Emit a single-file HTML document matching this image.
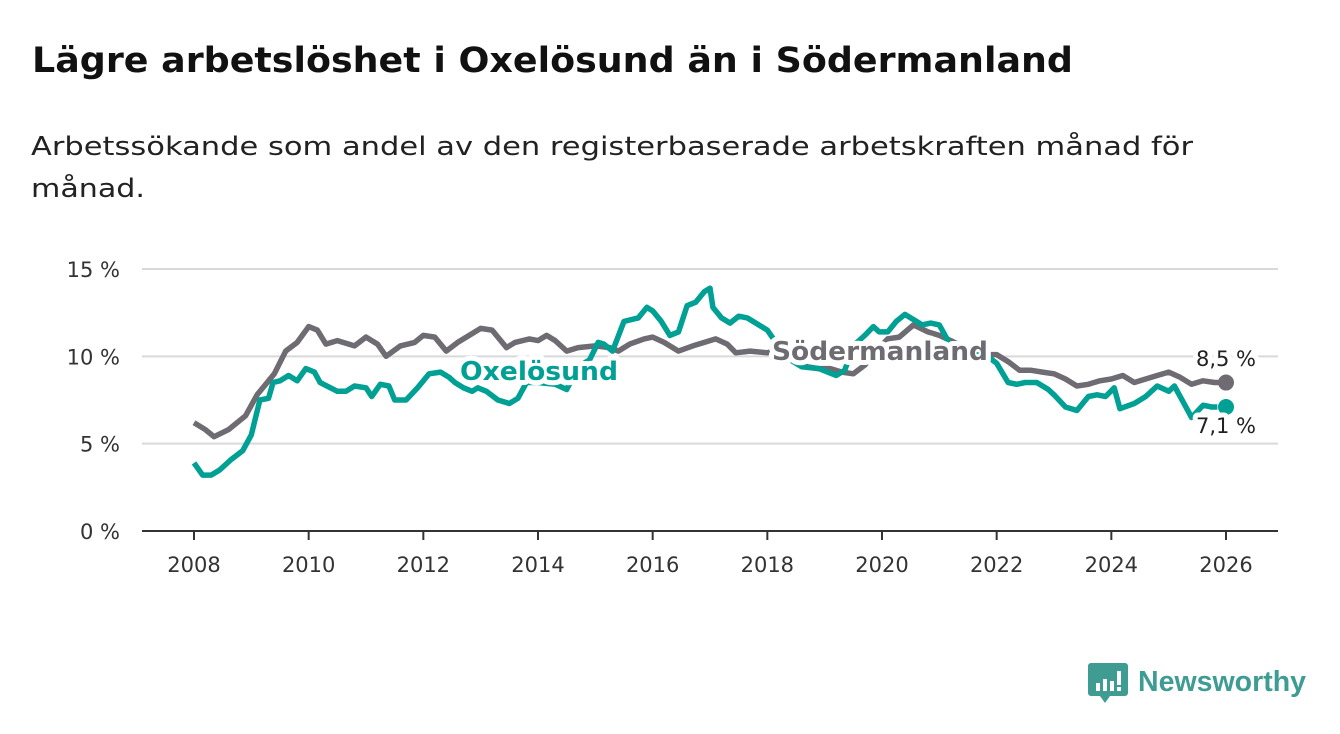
<!DOCTYPE html>
<html><head><meta charset="utf-8">
<style>
html,body{margin:0;padding:0;background:#fff;}
svg{display:block;font-family:"DejaVu Sans","Liberation Sans",sans-serif;}
</style></head>
<body>
<svg id="chart" width="1340" height="734" viewBox="0 0 1340 734">
<text x="32" y="72" font-size="35" font-weight="bold" fill="#111" textLength="1041" lengthAdjust="spacingAndGlyphs">Lägre arbetslöshet i Oxelösund än i Södermanland</text>
<text x="31" y="155" font-size="26" fill="#222" textLength="1162" lengthAdjust="spacingAndGlyphs">Arbetssökande som andel av den registerbaserade arbetskraften månad för</text>
<text x="31" y="197" font-size="26" fill="#222" textLength="114" lengthAdjust="spacingAndGlyphs">månad.</text>
<g id="grid"></g>
<g id="xaxis"></g>
<g id="lines"></g>
<g id="labels"></g>
<g>
<path d="M1091 663 h34 a3 3 0 0 1 3 3 v27 a3 3 0 0 1 -3 3 h-15 l-5 7 l-5 -7 h-9 a3 3 0 0 1 -3 -3 v-27 a3 3 0 0 1 3 -3z" fill="#3f9c92"/>
<rect x="1096" y="683" width="4" height="8" fill="#fff"/><rect x="1103" y="679" width="4" height="12" fill="#fff"/><rect x="1110" y="681" width="4" height="10" fill="#fff"/><rect x="1117" y="671" width="4" height="14" fill="#fff"/><rect x="1117" y="687" width="4" height="4" fill="#fff"/>
<text x="1138" y="691" font-size="29" font-weight="bold" fill="#3f9c92" font-family="Liberation Sans, sans-serif" textLength="168" lengthAdjust="spacingAndGlyphs">Newsworthy</text>
</g>
</svg>
<script>
const yTicks=[0,5,10,15];
const yTickLabels=["0 %","5 %","10 %","15 %"];
const xTicks=[2008,2010,2012,2014,2016,2018,2020,2022,2024,2026];
const sodDates=[2008.0,2008.2,2008.35,2008.6,2008.9,2009.1,2009.4,2009.6,2009.8,2010.0,2010.15,2010.3,2010.5,2010.8,2011.0,2011.2,2011.35,2011.6,2011.85,2012.0,2012.2,2012.4,2012.6,2012.8,2013.0,2013.2,2013.45,2013.6,2013.85,2014.0,2014.15,2014.3,2014.5,2014.7,2015.0,2015.25,2015.4,2015.6,2015.85,2016.0,2016.2,2016.45,2016.7,2016.9,2017.1,2017.3,2017.45,2017.7,2018.0,2018.2,2018.5,2018.7,2018.9,2019.1,2019.3,2019.5,2019.7,2019.9,2020.1,2020.3,2020.55,2020.8,2021.0,2021.2,2021.5,2021.8,2022.0,2022.2,2022.4,2022.6,2022.8,2023.0,2023.2,2023.4,2023.6,2023.8,2024.0,2024.2,2024.4,2024.6,2024.8,2025.0,2025.2,2025.4,2025.6,2025.8,2026.0];
const sodValues=[6.2,5.8,5.4,5.8,6.6,7.8,9.0,10.3,10.8,11.7,11.5,10.7,10.9,10.6,11.1,10.7,10.0,10.6,10.8,11.2,11.1,10.3,10.8,11.2,11.6,11.5,10.5,10.8,11.0,10.9,11.2,10.9,10.3,10.5,10.6,10.5,10.3,10.7,11.0,11.1,10.8,10.3,10.6,10.8,11.0,10.7,10.2,10.3,10.2,10.4,9.6,9.4,9.3,9.3,9.1,9.0,9.5,10.3,11.0,11.1,11.8,11.4,11.2,10.9,10.4,10.1,10.1,9.7,9.2,9.2,9.1,9.0,8.7,8.3,8.4,8.6,8.7,8.9,8.5,8.7,8.9,9.1,8.8,8.4,8.6,8.5,8.5];
const oxDates=[2008.0,2008.15,2008.3,2008.45,2008.65,2008.85,2009.0,2009.15,2009.3,2009.38,2009.5,2009.65,2009.8,2009.95,2010.1,2010.2,2010.5,2010.65,2010.8,2011.0,2011.1,2011.25,2011.4,2011.5,2011.7,2011.9,2012.1,2012.3,2012.45,2012.55,2012.7,2012.85,2012.95,2013.1,2013.3,2013.5,2013.65,2013.8,2014.0,2014.3,2014.5,2014.7,2014.9,2015.05,2015.15,2015.3,2015.5,2015.75,2015.9,2016.0,2016.15,2016.3,2016.45,2016.6,2016.75,2016.9,2017.0,2017.05,2017.2,2017.35,2017.5,2017.65,2017.85,2018.0,2018.15,2018.3,2018.6,2018.9,2019.2,2019.35,2019.5,2019.7,2019.85,2019.95,2020.1,2020.25,2020.4,2020.5,2020.7,2020.85,2021.0,2021.1,2021.2,2021.5,2021.8,2022.0,2022.2,2022.35,2022.5,2022.7,2022.9,2023.0,2023.2,2023.4,2023.6,2023.75,2023.9,2024.05,2024.15,2024.4,2024.6,2024.8,2025.0,2025.1,2025.25,2025.4,2025.6,2025.75,2025.85,2026.0];
const oxValues=[3.9,3.2,3.2,3.5,4.1,4.6,5.5,7.5,7.6,8.5,8.6,8.9,8.6,9.3,9.1,8.5,8.0,8.0,8.3,8.2,7.7,8.4,8.3,7.5,7.5,8.2,9.0,9.1,8.8,8.5,8.2,8.0,8.2,8.0,7.5,7.3,7.6,8.5,8.5,8.4,8.1,9.4,9.8,10.8,10.7,10.3,12.0,12.2,12.8,12.6,12.0,11.2,11.4,12.9,13.1,13.7,13.9,12.8,12.2,11.9,12.3,12.2,11.8,11.5,10.8,10.0,9.4,9.3,8.9,9.2,10.6,11.2,11.7,11.4,11.4,12.0,12.4,12.2,11.8,11.9,11.8,11.2,10.6,10.2,10.1,9.6,8.5,8.4,8.5,8.5,8.1,7.8,7.1,6.9,7.7,7.8,7.7,8.2,7.0,7.3,7.7,8.3,8.0,8.3,7.4,6.5,7.2,7.1,7.1];
const sodEndLabel="8,5 %", oxEndLabel="7,1 %";

const NS="http://www.w3.org/2000/svg";
const X0=194,X1=1226,Y0=531,Y15=269;
const xs=d=>X0+(d-2008)*(X1-X0)/18;
const ys=v=>Y0-v*(Y0-Y15)/15;
function mk(tag,attrs,parent,text){const e=document.createElementNS(NS,tag);for(const k in attrs)e.setAttribute(k,attrs[k]);if(text!==undefined)e.textContent=text;parent.appendChild(e);return e;}
const grid=document.getElementById('grid'),xa=document.getElementById('xaxis'),lines=document.getElementById('lines'),lab=document.getElementById('labels');
yTicks.forEach((t,i)=>{
 const l=mk('line',{x1:142,x2:1278,y1:ys(t),y2:ys(t),stroke:t===0?'#333':'#d9d9d9','stroke-width':2},grid);
 
 
 const tx=mk('text',{x:120,y:ys(t)+8,'font-size':21,fill:'#333','text-anchor':'end'},grid,yTickLabels[i]);
 
 
});
xTicks.forEach(t=>{
 const l=mk('line',{x1:xs(t),x2:xs(t),y1:Y0,y2:Y0+9,stroke:'#333','stroke-width':2},xa);
 
 
 const tx=mk('text',{x:xs(t),y:572,'font-size':21,fill:'#333','text-anchor':'middle'},xa,String(t));
 
 
});
function path(ds,vs){return ds.map((d,i)=>(i?'L':'M')+xs(d).toFixed(1)+' '+ys(vs[i]).toFixed(1)).join(' ');}
const sp=mk('path',{d:path(sodDates,sodValues),fill:'none',stroke:'#6e6c72','stroke-width':5.5,'stroke-linejoin':'round'},lines);


const op=mk('path',{d:path(oxDates,oxValues),fill:'none',stroke:'#00a095','stroke-width':5.5,'stroke-linejoin':'round'},lines);


const sd=mk('circle',{cx:xs(sodDates[sodDates.length-1]),cy:ys(sodValues[sodValues.length-1]),r:8,fill:'#6e6c72'},lines);


const od=mk('circle',{cx:xs(oxDates[oxDates.length-1]),cy:ys(oxValues[oxValues.length-1]),r:8,fill:'#00a095'},lines);


function halo(x,y,txt,col,size,weight,anchor,name,len){
 const a={x:x,y:y,'font-size':size,'font-weight':weight,fill:col,'text-anchor':anchor,stroke:'#fff','stroke-width':10,'stroke-linejoin':'round','paint-order':'stroke'};
 if(len){a.textLength=len;a.lengthAdjust='spacingAndGlyphs';}
 const t=mk('text',a,lab,txt);
 
 
}
halo(460,380,'Oxelösund','#00a095',26,'bold','start','label-oxelosund',158);
halo(772,360,'Södermanland','#6e6c72',26,'bold','start','label-sodermanland',216);
halo(1226,366,sodEndLabel,'#222',21,'normal','middle','end-label-sodermanland');
halo(1226,433,oxEndLabel,'#222',21,'normal','middle','end-label-oxelosund');
</script>
</body></html>
